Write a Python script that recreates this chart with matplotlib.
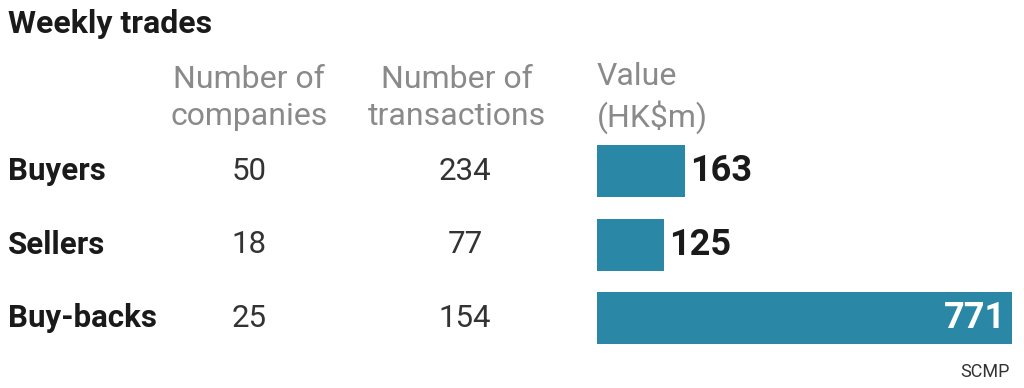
import matplotlib.pyplot as plt
import matplotlib.transforms as mtransforms

categories = ["Buyers", "Sellers", "Buy-backs"]
companies = [50, 18, 25]
transactions = [234, 77, 154]
values = [163, 125, 771]

BAR = "#2b87a6"
GREY = "#8a8a8a"
DARK = "#1a1a1a"

plt.rcParams['font.family'] = ['Roboto', 'DejaVu Sans']

fig = plt.figure(figsize=(10.24, 3.88), dpi=100)
ax = fig.add_axes([597 / 1024, 1 - 355 / 388, 415 / 1024, 220.5 / 388])
ax.barh(range(len(values)), values, height=0.71, color=BAR)
ax.set_xlim(0, max(values))
ax.set_ylim(len(values) - 0.5, -0.5)
ax.axis("off")

for i, v in enumerate(values):
    if v > 0.5 * max(values):
        ax.text(v - 12, i, str(v), ha="right", va="center", fontsize=26,
                fontweight="bold", color="white")
    else:
        ax.text(v + 9, i, str(v), ha="left", va="center", fontsize=26,
                fontweight="bold", color=DARK)

row = mtransforms.blended_transform_factory(fig.transFigure, ax.transData)
for i, name in enumerate(categories):
    fig.text(8 / 1024, i, name, transform=row, ha="left", va="center",
             fontsize=22.5, fontweight="bold", color=DARK)
    fig.text(249 / 1024, i, str(companies[i]), transform=row, ha="center",
             va="center", fontsize=22.5, color="#333333")
    fig.text(465 / 1024, i, str(transactions[i]), transform=row, ha="center",
             va="center", fontsize=22.5, color="#333333")

fig.text(8 / 1024, 1 - 24 / 388, "Weekly trades", ha="left", va="center",
         fontsize=23, fontweight="bold", color=DARK)
fig.text(249 / 1024, 1 - 98 / 388, "Number of\ncompanies", ha="center",
         va="center", fontsize=23, color=GREY, linespacing=1.38)
fig.text(457 / 1024, 1 - 98 / 388, "Number of\ntransactions", ha="center",
         va="center", fontsize=23, color=GREY, linespacing=1.38)
fig.text(597 / 1024, 1 - 98 / 388, "Value\n(HK$m)", ha="left",
         va="center", fontsize=23, color=GREY, linespacing=1.38)
fig.text(1010 / 1024, 1 - 372 / 388, "SCMP", ha="right", va="center",
         fontsize=13, color="#333333")

fig.savefig("out.png", dpi=100, facecolor="white")
